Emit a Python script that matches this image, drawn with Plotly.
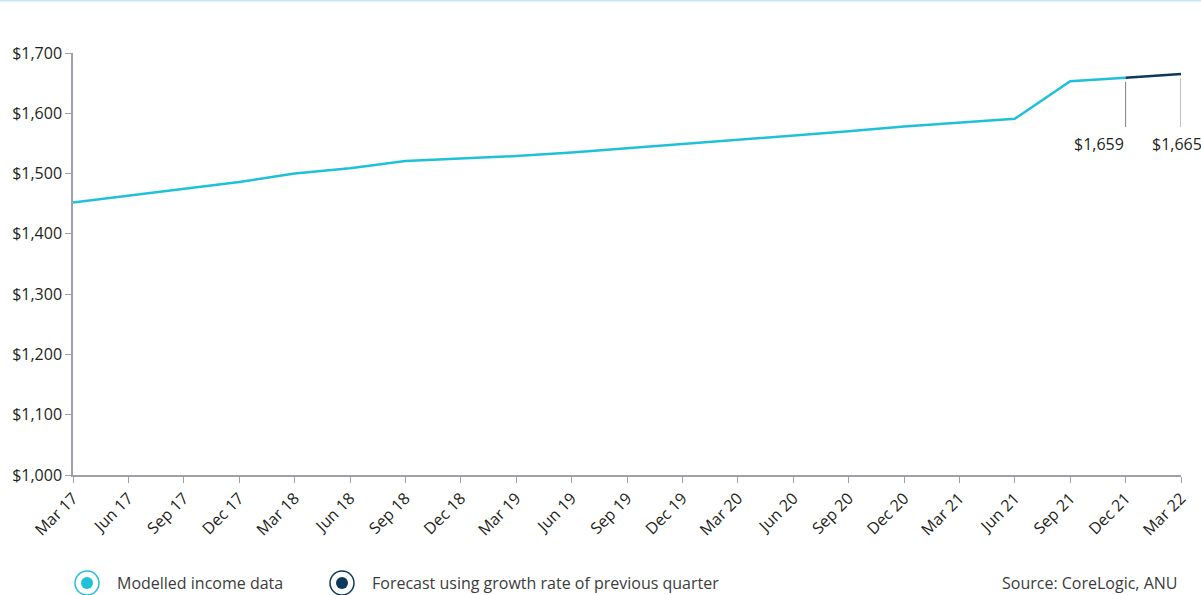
import plotly.graph_objects as go

quarters = ["Mar 17", "Jun 17", "Sep 17", "Dec 17", "Mar 18", "Jun 18", "Sep 18", "Dec 18",
            "Mar 19", "Jun 19", "Sep 19", "Dec 19", "Mar 20", "Jun 20", "Sep 20", "Dec 20",
            "Mar 21", "Jun 21", "Sep 21", "Dec 21", "Mar 22"]
modelled = [1452, 1463, 1475, 1486, 1500, 1509, 1521, 1525, 1529, 1535, 1542, 1548,
            1556, 1562, 1570, 1578, 1585, 1591, 1653, 1659]
forecast_x = ["Dec 21", "Mar 22"]
forecast = [1659, 1665]
label_x = ["Dec 21", "Mar 22"]
label_vals = [1659, 1665]
y_ticks = [1000, 1100, 1200, 1300, 1400, 1500, 1600, 1700]

CYAN = "#1fc1d9"
NAVY = "#0d3a5c"
FONT = "Open Sans"
TXT = "#231f20"

fig = go.Figure()
fig.add_trace(go.Scatter(x=quarters[:len(modelled)], y=modelled, mode="lines",
                         line=dict(color=CYAN, width=2.5), showlegend=False, hoverinfo="skip"))
fig.add_trace(go.Scatter(x=forecast_x, y=forecast, mode="lines",
                         line=dict(color=NAVY, width=2.5), showlegend=False, hoverinfo="skip"))

W, H = 1201, 595
ml, mr, mt, mb = 73, 20, 53, 120
pw, ph = W - ml - mr, H - mt - mb

def px(xp):
    return (xp - ml) / pw

def py(yp):
    return (H - mb - yp) / ph

shapes = []
annotations = []
# leader lines and value labels
for i, (lx, lv) in enumerate(zip(label_x, label_vals)):
    shapes.append(dict(type="line", xref="x", yref="y", x0=lx, x1=lx, y0=lv - 7, y1=1577,
                       line=dict(color="#808080", width=1)))
    annotations.append(dict(x=lx, y=1577, xref="x", yref="y", text="$" + format(lv, ","),
                            showarrow=False, xanchor="right" if i == 0 else "center",
                            xshift=0 if i == 0 else -4,
                            yanchor="top", yshift=-4,
                            font=dict(family=FONT, size=16, color=TXT)))

# top border line
shapes.append(dict(type="line", xref="paper", yref="paper", x0=px(0), x1=px(W),
                   y0=py(0.5), y1=py(0.5), line=dict(color="#bfeaf3", width=2)))

# custom legend
legend_items = [(87, CYAN, "Modelled income data"), (342, NAVY, "Forecast using growth rate of previous quarter")]
cy = 583
for cx, col, text in legend_items:
    r_out, r_in = 12, 6
    shapes.append(dict(type="circle", xref="paper", yref="paper",
                       x0=px(cx - r_out), x1=px(cx + r_out), y0=py(cy + r_out), y1=py(cy - r_out),
                       line=dict(color=col, width=1.5), fillcolor="white"))
    shapes.append(dict(type="circle", xref="paper", yref="paper",
                       x0=px(cx - r_in), x1=px(cx + r_in), y0=py(cy + r_in), y1=py(cy - r_in),
                       line=dict(color=col, width=0), fillcolor=col))
    annotations.append(dict(x=px(cx + 28), y=py(cy), xref="paper", yref="paper", text=text,
                            showarrow=False, xanchor="left", yanchor="middle",
                            font=dict(family=FONT, size=16, color="#3c3c3c")))
annotations.append(dict(x=px(1179), y=py(cy), xref="paper", yref="paper", text="Source: CoreLogic, ANU",
                        showarrow=False, xanchor="right", yanchor="middle",
                        font=dict(family=FONT, size=16, color="#3c3c3c")))

fig.update_layout(
    width=W, height=H,
    margin=dict(l=ml, r=mr, t=mt, b=mb),
    paper_bgcolor="white", plot_bgcolor="white",
    font=dict(family=FONT, size=15, color=TXT),
    shapes=shapes, annotations=annotations,
    showlegend=False,
)
fig.update_xaxes(type="category", categoryorder="array", categoryarray=quarters,
                 range=[0, len(quarters) - 1], tickangle=-45, showgrid=False,
                 showline=True, linecolor="#a0a0a8", linewidth=1.5,
                 ticks="outside", ticklen=6, tickcolor="#a0a0a8",
                 tickfont=dict(family=FONT, size=16, color=TXT))
fig.update_yaxes(range=[1000, 1700], tickvals=y_ticks,
                 ticktext=["$" + format(v, ",") for v in y_ticks],
                 showgrid=False, zeroline=False,
                 showline=True, linecolor="#a0a0a8", linewidth=1.5,
                 ticks="outside", ticklen=6, tickcolor="#a0a0a8",
                 tickfont=dict(family=FONT, size=16, color=TXT))

fig.write_html("out.html", config={"displayModeBar": False},
               post_script="document.body.style.margin='0';document.body.style.overflow='hidden';")
